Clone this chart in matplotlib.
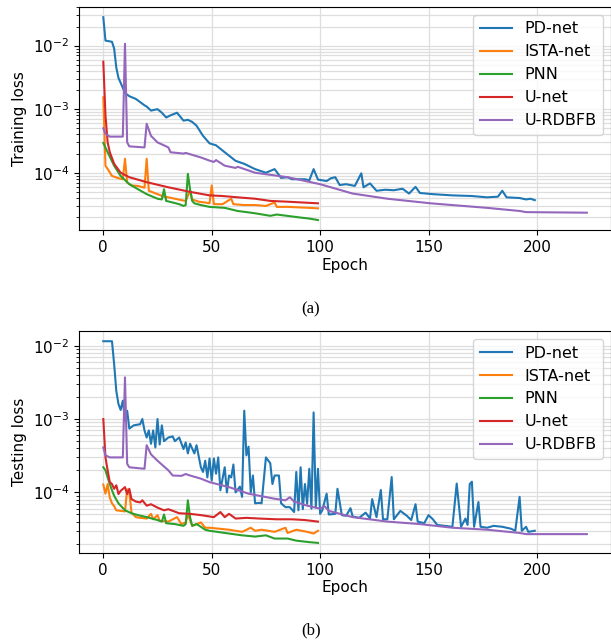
# training / testing loss curves for the five networks (log scale)

import matplotlib.pyplot as plt

plt.rcParams["font.size"] = 11

names = ["PD-net", "ISTA-net", "PNN", "U-net", "U-RDBFB"]

# training loss (a)
train_pd_ep = [0, 1, 4, 5, 6, 7, 8, 10, 12, 15, 19, 20, 22, 25, 27, 29, 31, 34, 37, 39, 41, 43, 46, 49,
               52, 56, 61, 65, 70, 75, 79, 82, 85, 87, 93, 95, 97, 99, 100, 103, 105, 107, 109, 112, 116,
               119, 120, 123, 126, 130, 134, 138, 141, 144, 146, 152, 161, 170, 177, 182, 184, 186, 192,
               195, 197, 199]
train_pd = [0.028, 0.012, 0.0115, 0.009, 0.0045, 0.0031, 0.0026, 0.0018, 0.0016, 0.00145, 0.00115, 0.0011,
            0.00095, 0.001, 0.00088, 0.00074, 0.0008, 0.00088, 0.00066, 0.00068, 0.00063, 0.00055, 0.00038,
            0.00029, 0.00027, 0.00021, 0.000154, 0.000138, 0.000114, 0.0001, 0.000114, 8.3e-5, 8.5e-5,
            7.9e-5, 7.9e-5, 7.6e-5, 0.000114, 7.8e-5, 7.7e-5, 7.4e-5, 8.2e-5, 8.5e-5, 6.4e-5, 6.6e-5, 6.2e-5,
            9.8e-5, 5.9e-5, 6.8e-5, 5.2e-5, 5.4e-5, 5.3e-5, 5.6e-5, 4.7e-5, 6.0e-5, 4.8e-5, 4.6e-5, 4.4e-5,
            4.3e-5, 4.1e-5, 4.2e-5, 5.2e-5, 4.1e-5, 4.0e-5, 3.8e-5, 3.9e-5, 3.7e-5]

train_ista_ep = [0, 1, 2, 4, 7, 9, 10, 11, 13, 16, 19, 20, 21, 25, 28, 30, 33, 36, 38, 40, 41, 44, 47, 49,
                 50, 51, 55, 59, 60, 65, 70, 75, 79, 80, 85, 90, 95, 99]
train_ista = [0.00154, 0.000129, 0.000115, 8.9e-5, 8.2e-5, 7.9e-5, 0.000166, 7e-5, 6.3e-5, 6.2e-5, 5.8e-5,
              0.000166, 5.2e-5, 4.6e-5, 4.2e-5, 4.1e-5, 3.9e-5, 3.7e-5, 3.6e-5, 5.2e-5, 3.8e-5, 3.5e-5,
              3.4e-5, 3.3e-5, 6.3e-5, 3.2e-5, 3.2e-5, 3.9e-5, 3.2e-5, 3.1e-5, 3.1e-5, 3.0e-5, 3.4e-5, 2.9e-5,
              2.9e-5, 2.85e-5, 2.8e-5, 2.75e-5]

train_pnn_ep = [0, 2, 5, 8, 12, 16, 20, 25, 27, 28, 29, 32, 35, 37, 38, 39, 40, 41, 42, 45, 49, 56, 62, 66,
                70, 77, 80, 87, 92, 95, 99]
train_pnn = [0.000294, 0.00021, 0.000129, 8.9e-5, 6.6e-5, 5.5e-5, 4.6e-5, 3.9e-5, 3.8e-5, 5.5e-5, 3.6e-5,
             3.4e-5, 3.2e-5, 3.0e-5, 3.1e-5, 9.6e-5, 5.5e-5, 3.6e-5, 3.3e-5, 3.1e-5, 2.9e-5, 2.8e-5, 2.5e-5,
             2.4e-5, 2.3e-5, 2.1e-5, 2.2e-5, 2.05e-5, 1.95e-5, 1.9e-5, 1.8e-5]

train_unet_ep = [0, 1, 2, 3, 5, 8, 12, 20, 30, 40, 49, 55, 62, 70, 77, 85, 92, 99]
train_unet = [0.0056, 0.0008, 0.0003, 0.00021, 0.000138, 0.0001, 8.5e-5, 7.1e-5, 5.9e-5, 5.0e-5, 4.4e-5,
              4.3e-5, 4.1e-5, 3.9e-5, 3.6e-5, 3.5e-5, 3.4e-5, 3.3e-5]

train_rdb_ep = [0, 1, 3, 9, 10, 11, 12, 19, 20, 22, 25, 29, 30, 31, 37, 38, 45, 49, 51, 52, 56, 61, 62, 70,
                85, 100, 115, 131, 151, 177, 192, 195, 223]
train_rdb = [0.0005, 0.00041, 0.00037, 0.00037, 0.0107, 0.0003, 0.00026, 0.00025, 0.00059, 0.00038, 0.0003,
             0.00026, 0.00025, 0.00021, 0.0002, 0.000205, 0.000174, 0.000155, 0.000148, 0.000158, 0.000129,
             0.000119, 0.000124, 0.0001, 8.5e-5, 6.6e-5, 4.7e-5, 3.9e-5, 3.3e-5, 2.8e-5, 2.5e-5, 2.4e-5,
             2.35e-5]

# testing loss (b)
test_pd_ep = [0, 4, 5, 6, 7, 8, 9, 10, 11, 12, 14, 17, 18, 19, 20, 21, 22, 23, 24, 25, 26, 27, 28, 30, 32,
              33, 35, 37, 38, 39, 40, 42, 43, 45, 46, 47, 48, 49, 50, 51, 52, 53, 54, 56, 57, 58, 59, 60, 61,
              63, 64, 65, 66, 67, 68, 69, 70, 72, 73, 75, 77, 78, 79, 81, 82, 84, 86, 88, 89, 90, 91, 92, 93,
              94, 95, 96, 97, 98, 99, 100, 101, 103, 104, 107, 108, 110, 112, 114, 115, 118, 121, 123, 124,
              126, 128, 129, 131, 133, 134, 137, 140, 142, 144, 145, 148, 150, 152, 154, 161, 163, 165, 167,
              168, 169, 170, 171, 173, 174, 177, 180, 184, 188, 190, 192, 193, 195, 196, 199]
test_pd = [0.0115, 0.0115, 0.0056, 0.0024, 0.0016, 0.00133, 0.00178, 0.00095, 0.0013, 0.00074, 0.00082,
           0.00085, 0.001, 0.0007, 0.00056, 0.0007, 0.00046, 0.0007, 0.00041, 0.001, 0.00045, 0.00082, 0.0005,
           0.00056, 0.00058, 0.0005, 0.00056, 0.00039, 0.00048, 0.00034, 0.00046, 0.00034, 0.00044, 0.00022,
           0.00019, 0.00027, 0.00016, 0.00029, 0.000145, 0.00029, 0.00018, 0.0003, 0.000107, 0.00022, 0.0001,
           0.00017, 0.00016, 0.00024, 0.0001, 0.00012, 8.7e-5, 0.0013, 0.00032, 0.00042, 0.0001, 0.00017,
           7.1e-5, 7.2e-5, 7.1e-5, 0.0003, 0.00025, 0.00013, 0.00017, 0.00017, 7.1e-5, 6.3e-5, 6.3e-5,
           5.4e-5, 0.00019, 5.7e-5, 0.00022, 5.9e-5, 0.00013, 7e-5, 0.00021, 6e-5, 0.00123, 6.2e-5, 0.00021,
           5.1e-5, 5.7e-5, 9.6e-5, 5e-5, 5.1e-5, 0.000112, 4.9e-5, 4.8e-5, 6.1e-5, 4.7e-5, 4.5e-5, 5.3e-5,
           4.4e-5, 8.1e-5, 4.6e-5, 0.000108, 4.3e-5, 4.3e-5, 0.000162, 4.3e-5, 5.6e-5, 4.8e-5, 4.2e-5,
           6.9e-5, 4.0e-5, 3.8e-5, 4.9e-5, 4.3e-5, 3.6e-5, 3.4e-5, 0.000132, 3.4e-5, 4.4e-5, 3.6e-5, 0.00013,
           0.00014, 3.4e-5, 7.4e-5, 3.4e-5, 3.3e-5, 3.5e-5, 3.4e-5, 3.2e-5, 3.0e-5, 8.7e-5, 3.0e-5, 3.4e-5,
           2.9e-5, 3.0e-5]

test_ista_ep = [0, 1, 2, 3, 4, 5, 6, 8, 10, 11, 12, 13, 15, 17, 20, 22, 23, 25, 26, 30, 34, 36, 38, 39, 41,
                45, 47, 49, 58, 64, 68, 70, 73, 79, 84, 85, 89, 94, 97, 99]
test_ista = [0.000128, 9.6e-5, 0.00013, 8.5e-5, 7.1e-5, 6.5e-5, 5.7e-5, 5.6e-5, 5.5e-5, 0.00011, 0.0001,
             5.3e-5, 4.6e-5, 4.5e-5, 4.4e-5, 5.1e-5, 4.3e-5, 4.9e-5, 4.1e-5, 4.0e-5, 4.6e-5, 3.7e-5, 3.9e-5,
             5.0e-5, 3.5e-5, 3.9e-5, 3.3e-5, 3.3e-5, 3.1e-5, 2.9e-5, 3.3e-5, 3.0e-5, 3.1e-5, 2.9e-5, 3.3e-5,
             2.8e-5, 3.1e-5, 2.9e-5, 2.75e-5, 3.0e-5]

test_pnn_ep = [0, 1, 2, 3, 4, 5, 7, 10, 13, 16, 20, 25, 27, 28, 29, 33, 37, 38, 39, 40, 41, 43, 45, 47, 49,
               58, 64, 70, 75, 79, 85, 89, 95, 99]
test_pnn = [0.00022, 0.0002, 0.00016, 0.00013, 0.000107, 9e-5, 7.1e-5, 5.7e-5, 5.2e-5, 4.9e-5, 4.6e-5,
            4.2e-5, 4.0e-5, 5.0e-5, 3.8e-5, 3.7e-5, 3.5e-5, 3.7e-5, 7.8e-5, 4.6e-5, 3.5e-5, 3.7e-5, 3.4e-5,
            3.1e-5, 3.0e-5, 2.75e-5, 2.6e-5, 2.5e-5, 2.6e-5, 2.35e-5, 2.35e-5, 2.2e-5, 2.1e-5, 2.05e-5]

test_unet_ep = [0, 1, 2, 3, 4, 5, 6, 7, 8, 10, 11, 12, 13, 15, 17, 18, 20, 22, 25, 28, 30, 35, 40, 45, 49,
                51, 54, 56, 58, 61, 66, 72, 80, 87, 93, 99]
test_unet = [0.001, 0.0003, 0.0002, 0.000138, 0.00013, 0.000112, 0.000125, 9.5e-5, 0.000105, 0.000118,
             9.5e-5, 0.000112, 8.1e-5, 7.5e-5, 7.3e-5, 7.8e-5, 6.6e-5, 6.9e-5, 6.2e-5, 5.7e-5, 5.9e-5,
             5.2e-5, 5.1e-5, 4.9e-5, 4.7e-5, 4.6e-5, 5.4e-5, 4.6e-5, 5.1e-5, 4.4e-5, 4.5e-5, 4.4e-5, 4.3e-5,
             4.3e-5, 4.2e-5, 4.0e-5]

test_rdb_ep = [0, 1, 3, 9, 10, 11, 12, 19, 20, 22, 25, 30, 32, 36, 38, 40, 45, 49, 58, 67, 79, 84, 86, 88,
               94, 100, 102, 104, 115, 131, 146, 161, 177, 192, 195, 223]
test_rdb = [0.00041, 0.00032, 0.0003, 0.0003, 0.0037, 0.000245, 0.00022, 0.00021, 0.00044, 0.00033, 0.00027,
            0.0002, 0.00017, 0.000168, 0.000178, 0.00017, 0.000154, 0.000138, 0.000118, 9.6e-5, 8.2e-5,
            7.8e-5, 8.6e-5, 7.5e-5, 6.6e-5, 6.0e-5, 6.5e-5, 5.6e-5, 4.6e-5, 4.0e-5, 3.7e-5, 3.3e-5, 3.1e-5,
            2.8e-5, 2.7e-5, 2.7e-5]

train = [(train_pd_ep, train_pd), (train_ista_ep, train_ista), (train_pnn_ep, train_pnn),
         (train_unet_ep, train_unet), (train_rdb_ep, train_rdb)]
test = [(test_pd_ep, test_pd), (test_ista_ep, test_ista), (test_pnn_ep, test_pnn),
        (test_unet_ep, test_unet), (test_rdb_ep, test_rdb)]

fig = plt.figure(figsize=(6.11, 6.43), dpi=100)
ax1 = fig.add_axes([0.1295, 0.642, 0.8705, 0.347])
ax2 = fig.add_axes([0.1295, 0.140, 0.8705, 0.345])

for ax, curves, ylab in [(ax1, train, "Training loss"), (ax2, test, "Testing loss")]:
    for (ep, val), name in zip(curves, names):
        ax.plot(ep, val, label=name, linewidth=1.5)
    ax.set_yscale("log")
    ax.set_xlabel("Epoch", labelpad=2)
    ax.set_ylabel(ylab)
    ax.set_xticks([0, 50, 100, 150, 200])
    ax.grid(True, which="both", color="#dedede", linewidth=0.9)
    ax.set_axisbelow(True)
    ax.legend(loc="upper right", fontsize=11.5)

# sub-figure captions
fig.text(0.509, 0.519, "(a)", ha="center", va="center", family="Liberation Serif", fontsize=12)
fig.text(0.509, 0.020, "(b)", ha="center", va="center", family="Liberation Serif", fontsize=12)

fig.savefig("out.png")
